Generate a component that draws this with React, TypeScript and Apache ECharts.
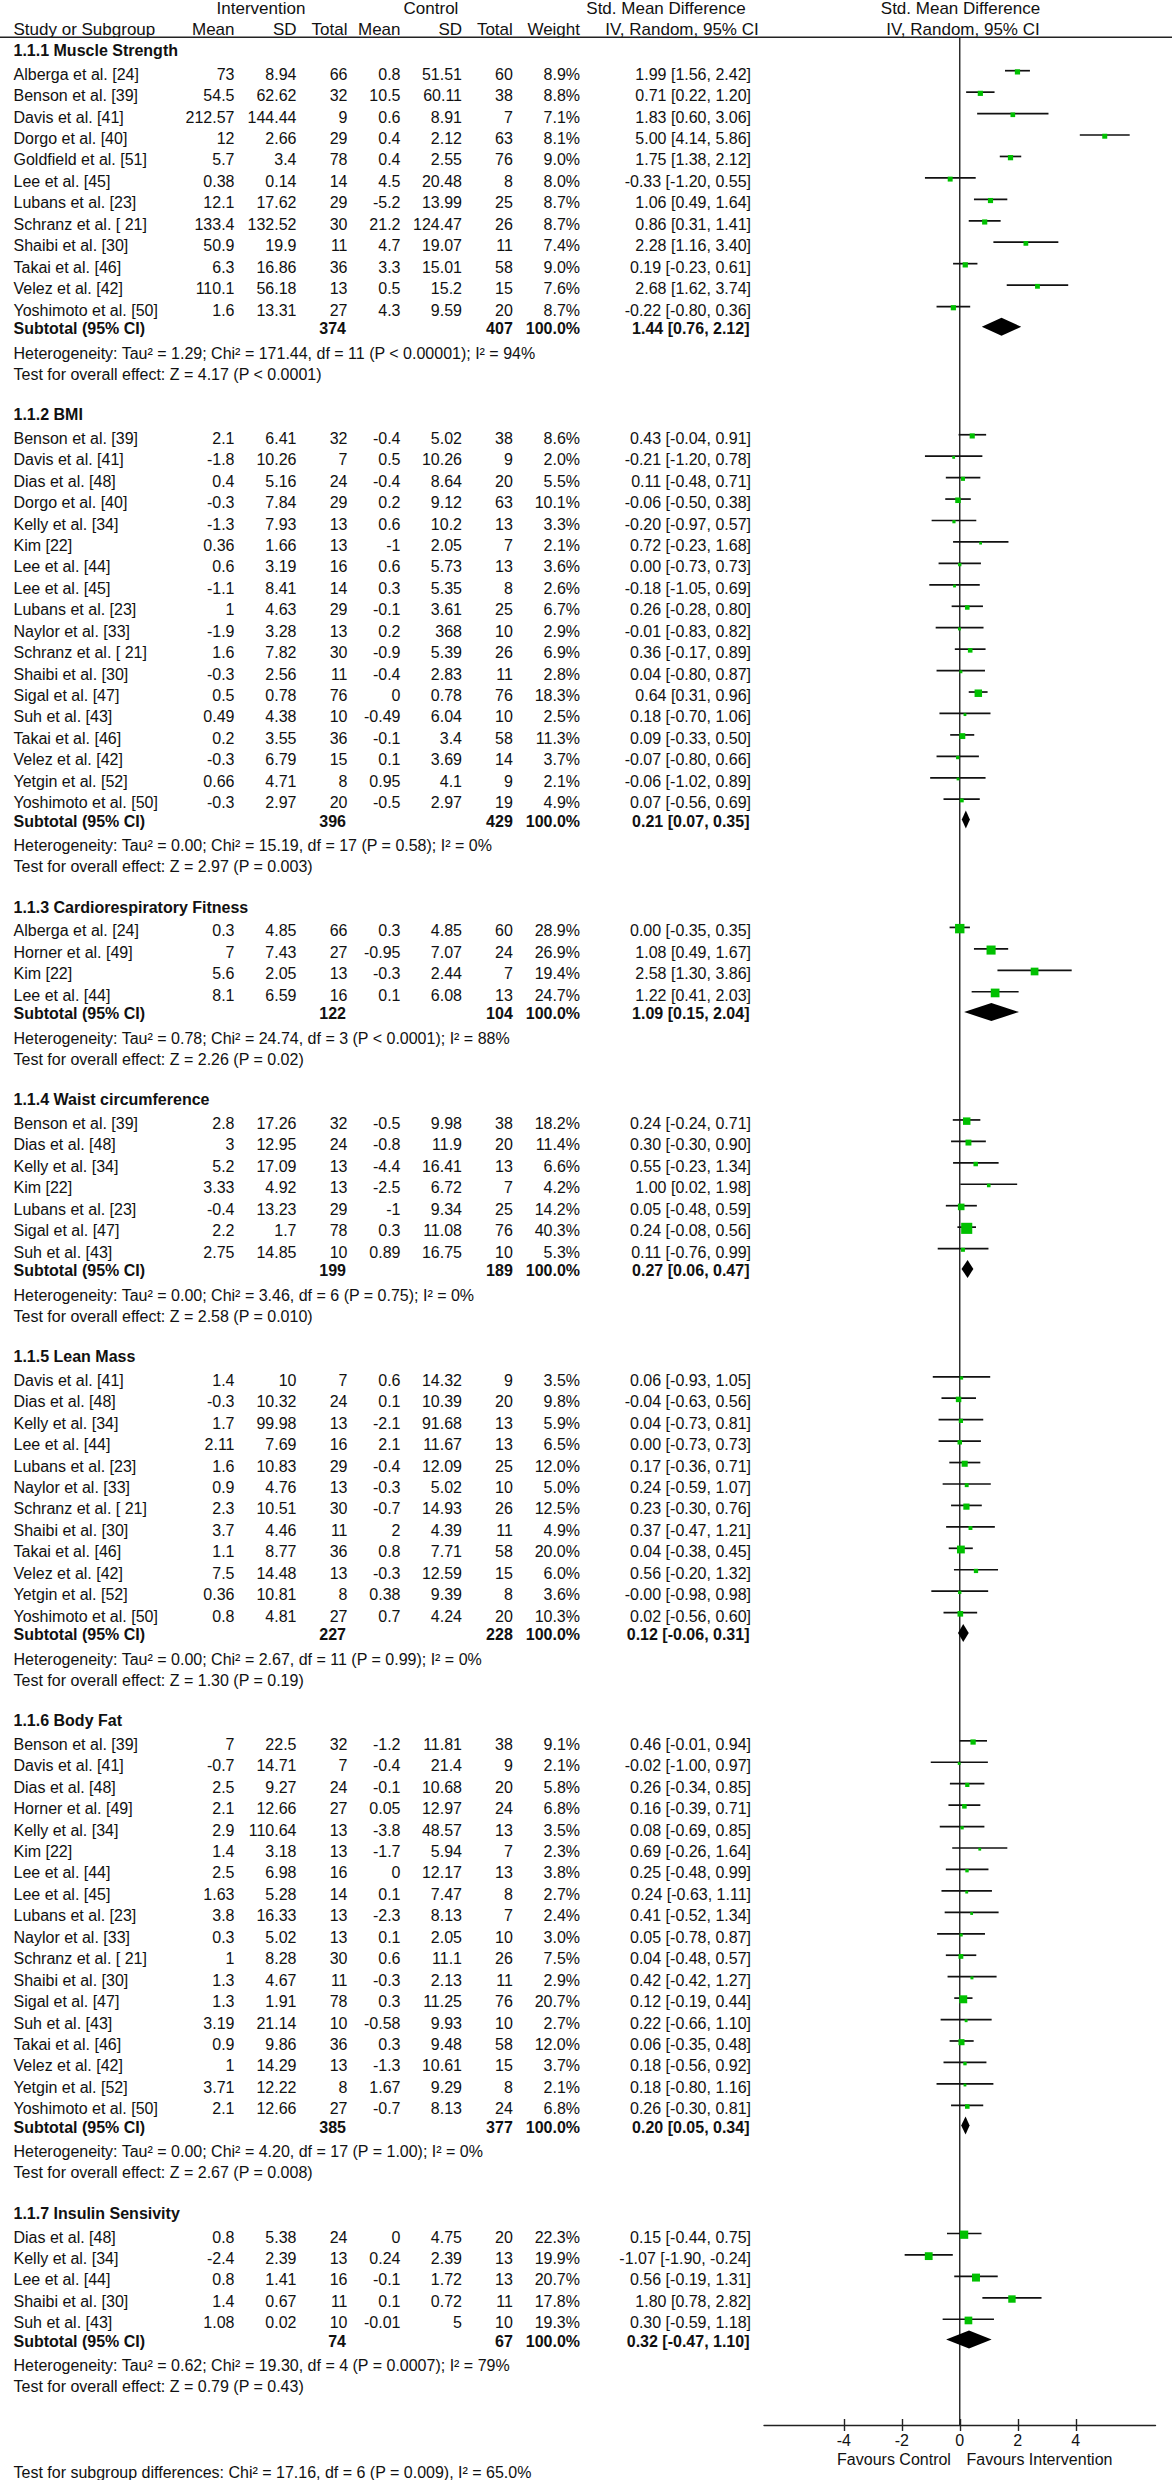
import React, { useEffect, useRef } from "react";
import * as echarts from "echarts";

const W = 1172;
const H = 2480;
const FONT = '"Liberation Sans", Arial, Helvetica, sans-serif';

// ---------- data ----------
const sectionTitles = [
  "1.1.1 Muscle Strength",
  "1.1.2 BMI",
  "1.1.3 Cardiorespiratory Fitness",
  "1.1.4 Waist circumference",
  "1.1.5 Lean Mass",
  "1.1.6 Body Fat",
  "1.1.7 Insulin Sensivity",
];

// Muscle Strength
const muscleNames = [
  "Alberga et al. [24]", "Benson et al. [39]", "Davis et al. [41]", "Dorgo et al. [40]",
  "Goldfield et al. [51]", "Lee et al. [45]", "Lubans et al. [23]", "Schranz et al. [ 21]",
  "Shaibi et al. [30]", "Takai et al. [46]", "Velez et al. [42]", "Yoshimoto et al. [50]",
];
const muscleStats = [
  [73, 8.94, 66, 0.8, 51.51, 60], [54.5, 62.62, 32, 10.5, 60.11, 38], [212.57, 144.44, 9, 0.6, 8.91, 7],
  [12, 2.66, 29, 0.4, 2.12, 63], [5.7, 3.4, 78, 0.4, 2.55, 76], [0.38, 0.14, 14, 4.5, 20.48, 8],
  [12.1, 17.62, 29, -5.2, 13.99, 25], [133.4, 132.52, 30, 21.2, 124.47, 26], [50.9, 19.9, 11, 4.7, 19.07, 11],
  [6.3, 16.86, 36, 3.3, 15.01, 58], [110.1, 56.18, 13, 0.5, 15.2, 15], [1.6, 13.31, 27, 4.3, 9.59, 20],
];
const muscleEffects = [
  [8.9, 1.99, 1.56, 2.42], [8.8, 0.71, 0.22, 1.2], [7.1, 1.83, 0.6, 3.06], [8.1, 5.0, 4.14, 5.86],
  [9.0, 1.75, 1.38, 2.12], [8.0, -0.33, -1.2, 0.55], [8.7, 1.06, 0.49, 1.64], [8.7, 0.86, 0.31, 1.41],
  [7.4, 2.28, 1.16, 3.4], [9.0, 0.19, -0.23, 0.61], [7.6, 2.68, 1.62, 3.74], [8.7, -0.22, -0.8, 0.36],
];
const muscleSubtotal = [374, 407, 1.44, 0.76, 2.12];
const muscleHet = "Heterogeneity: Tau² = 1.29; Chi² = 171.44, df = 11 (P < 0.00001); I² = 94%";
const muscleTest = "Test for overall effect: Z = 4.17 (P < 0.0001)";

// BMI
const bmiNames = [
  "Benson et al. [39]", "Davis et al. [41]", "Dias et al. [48]", "Dorgo et al. [40]", "Kelly et al. [34]",
  "Kim [22]", "Lee et al. [44]", "Lee et al. [45]", "Lubans et al. [23]", "Naylor et al. [33]",
  "Schranz et al. [ 21]", "Shaibi et al. [30]", "Sigal et al. [47]", "Suh et al. [43]", "Takai et al. [46]",
  "Velez et al. [42]", "Yetgin et al. [52]", "Yoshimoto et al. [50]",
];
const bmiStats = [
  [2.1, 6.41, 32, -0.4, 5.02, 38], [-1.8, 10.26, 7, 0.5, 10.26, 9], [0.4, 5.16, 24, -0.4, 8.64, 20],
  [-0.3, 7.84, 29, 0.2, 9.12, 63], [-1.3, 7.93, 13, 0.6, 10.2, 13], [0.36, 1.66, 13, -1, 2.05, 7],
  [0.6, 3.19, 16, 0.6, 5.73, 13], [-1.1, 8.41, 14, 0.3, 5.35, 8], [1, 4.63, 29, -0.1, 3.61, 25],
  [-1.9, 3.28, 13, 0.2, 368, 10], [1.6, 7.82, 30, -0.9, 5.39, 26], [-0.3, 2.56, 11, -0.4, 2.83, 11],
  [0.5, 0.78, 76, 0, 0.78, 76], [0.49, 4.38, 10, -0.49, 6.04, 10], [0.2, 3.55, 36, -0.1, 3.4, 58],
  [-0.3, 6.79, 15, 0.1, 3.69, 14], [0.66, 4.71, 8, 0.95, 4.1, 9], [-0.3, 2.97, 20, -0.5, 2.97, 19],
];
const bmiEffects = [
  [8.6, 0.43, -0.04, 0.91], [2.0, -0.21, -1.2, 0.78], [5.5, 0.11, -0.48, 0.71], [10.1, -0.06, -0.5, 0.38],
  [3.3, -0.2, -0.97, 0.57], [2.1, 0.72, -0.23, 1.68], [3.6, 0.0, -0.73, 0.73], [2.6, -0.18, -1.05, 0.69],
  [6.7, 0.26, -0.28, 0.8], [2.9, -0.01, -0.83, 0.82], [6.9, 0.36, -0.17, 0.89], [2.8, 0.04, -0.8, 0.87],
  [18.3, 0.64, 0.31, 0.96], [2.5, 0.18, -0.7, 1.06], [11.3, 0.09, -0.33, 0.5], [3.7, -0.07, -0.8, 0.66],
  [2.1, -0.06, -1.02, 0.89], [4.9, 0.07, -0.56, 0.69],
];
const bmiSubtotal = [396, 429, 0.21, 0.07, 0.35];
const bmiHet = "Heterogeneity: Tau² = 0.00; Chi² = 15.19, df = 17 (P = 0.58); I² = 0%";
const bmiTest = "Test for overall effect: Z = 2.97 (P = 0.003)";

// Cardiorespiratory Fitness
const cardioNames = ["Alberga et al. [24]", "Horner et al. [49]", "Kim [22]", "Lee et al. [44]"];
const cardioStats = [
  [0.3, 4.85, 66, 0.3, 4.85, 60], [7, 7.43, 27, -0.95, 7.07, 24],
  [5.6, 2.05, 13, -0.3, 2.44, 7], [8.1, 6.59, 16, 0.1, 6.08, 13],
];
const cardioEffects = [
  [28.9, 0.0, -0.35, 0.35], [26.9, 1.08, 0.49, 1.67], [19.4, 2.58, 1.3, 3.86], [24.7, 1.22, 0.41, 2.03],
];
const cardioSubtotal = [122, 104, 1.09, 0.15, 2.04];
const cardioHet = "Heterogeneity: Tau² = 0.78; Chi² = 24.74, df = 3 (P < 0.0001); I² = 88%";
const cardioTest = "Test for overall effect: Z = 2.26 (P = 0.02)";

// Waist circumference
const waistNames = [
  "Benson et al. [39]", "Dias et al. [48]", "Kelly et al. [34]", "Kim [22]",
  "Lubans et al. [23]", "Sigal et al. [47]", "Suh et al. [43]",
];
const waistStats = [
  [2.8, 17.26, 32, -0.5, 9.98, 38], [3, 12.95, 24, -0.8, 11.9, 20], [5.2, 17.09, 13, -4.4, 16.41, 13],
  [3.33, 4.92, 13, -2.5, 6.72, 7], [-0.4, 13.23, 29, -1, 9.34, 25], [2.2, 1.7, 78, 0.3, 11.08, 76],
  [2.75, 14.85, 10, 0.89, 16.75, 10],
];
const waistEffects = [
  [18.2, 0.24, -0.24, 0.71], [11.4, 0.3, -0.3, 0.9], [6.6, 0.55, -0.23, 1.34], [4.2, 1.0, 0.02, 1.98],
  [14.2, 0.05, -0.48, 0.59], [40.3, 0.24, -0.08, 0.56], [5.3, 0.11, -0.76, 0.99],
];
const waistSubtotal = [199, 189, 0.27, 0.06, 0.47];
const waistHet = "Heterogeneity: Tau² = 0.00; Chi² = 3.46, df = 6 (P = 0.75); I² = 0%";
const waistTest = "Test for overall effect: Z = 2.58 (P = 0.010)";

// Lean Mass
const leanNames = [
  "Davis et al. [41]", "Dias et al. [48]", "Kelly et al. [34]", "Lee et al. [44]", "Lubans et al. [23]",
  "Naylor et al. [33]", "Schranz et al. [ 21]", "Shaibi et al. [30]", "Takai et al. [46]",
  "Velez et al. [42]", "Yetgin et al. [52]", "Yoshimoto et al. [50]",
];
const leanStats = [
  [1.4, 10, 7, 0.6, 14.32, 9], [-0.3, 10.32, 24, 0.1, 10.39, 20], [1.7, 99.98, 13, -2.1, 91.68, 13],
  [2.11, 7.69, 16, 2.1, 11.67, 13], [1.6, 10.83, 29, -0.4, 12.09, 25], [0.9, 4.76, 13, -0.3, 5.02, 10],
  [2.3, 10.51, 30, -0.7, 14.93, 26], [3.7, 4.46, 11, 2, 4.39, 11], [1.1, 8.77, 36, 0.8, 7.71, 58],
  [7.5, 14.48, 13, -0.3, 12.59, 15], [0.36, 10.81, 8, 0.38, 9.39, 8], [0.8, 4.81, 27, 0.7, 4.24, 20],
];
const leanEffects = [
  [3.5, 0.06, -0.93, 1.05], [9.8, -0.04, -0.63, 0.56], [5.9, 0.04, -0.73, 0.81], [6.5, 0.0, -0.73, 0.73],
  [12.0, 0.17, -0.36, 0.71], [5.0, 0.24, -0.59, 1.07], [12.5, 0.23, -0.3, 0.76], [4.9, 0.37, -0.47, 1.21],
  [20.0, 0.04, -0.38, 0.45], [6.0, 0.56, -0.2, 1.32], [3.6, -0.001, -0.98, 0.98], [10.3, 0.02, -0.56, 0.6],
];
const leanSubtotal = [227, 228, 0.12, -0.06, 0.31];
const leanHet = "Heterogeneity: Tau² = 0.00; Chi² = 2.67, df = 11 (P = 0.99); I² = 0%";
const leanTest = "Test for overall effect: Z = 1.30 (P = 0.19)";

// Body Fat
const fatNames = [
  "Benson et al. [39]", "Davis et al. [41]", "Dias et al. [48]", "Horner et al. [49]", "Kelly et al. [34]",
  "Kim [22]", "Lee et al. [44]", "Lee et al. [45]", "Lubans et al. [23]", "Naylor et al. [33]",
  "Schranz et al. [ 21]", "Shaibi et al. [30]", "Sigal et al. [47]", "Suh et al. [43]", "Takai et al. [46]",
  "Velez et al. [42]", "Yetgin et al. [52]", "Yoshimoto et al. [50]",
];
const fatStats = [
  [7, 22.5, 32, -1.2, 11.81, 38], [-0.7, 14.71, 7, -0.4, 21.4, 9], [2.5, 9.27, 24, -0.1, 10.68, 20],
  [2.1, 12.66, 27, 0.05, 12.97, 24], [2.9, 110.64, 13, -3.8, 48.57, 13], [1.4, 3.18, 13, -1.7, 5.94, 7],
  [2.5, 6.98, 16, 0, 12.17, 13], [1.63, 5.28, 14, 0.1, 7.47, 8], [3.8, 16.33, 13, -2.3, 8.13, 7],
  [0.3, 5.02, 13, 0.1, 2.05, 10], [1, 8.28, 30, 0.6, 11.1, 26], [1.3, 4.67, 11, -0.3, 2.13, 11],
  [1.3, 1.91, 78, 0.3, 11.25, 76], [3.19, 21.14, 10, -0.58, 9.93, 10], [0.9, 9.86, 36, 0.3, 9.48, 58],
  [1, 14.29, 13, -1.3, 10.61, 15], [3.71, 12.22, 8, 1.67, 9.29, 8], [2.1, 12.66, 27, -0.7, 8.13, 24],
];
const fatEffects = [
  [9.1, 0.46, -0.01, 0.94], [2.1, -0.02, -1.0, 0.97], [5.8, 0.26, -0.34, 0.85], [6.8, 0.16, -0.39, 0.71],
  [3.5, 0.08, -0.69, 0.85], [2.3, 0.69, -0.26, 1.64], [3.8, 0.25, -0.48, 0.99], [2.7, 0.24, -0.63, 1.11],
  [2.4, 0.41, -0.52, 1.34], [3.0, 0.05, -0.78, 0.87], [7.5, 0.04, -0.48, 0.57], [2.9, 0.42, -0.42, 1.27],
  [20.7, 0.12, -0.19, 0.44], [2.7, 0.22, -0.66, 1.1], [12.0, 0.06, -0.35, 0.48], [3.7, 0.18, -0.56, 0.92],
  [2.1, 0.18, -0.8, 1.16], [6.8, 0.26, -0.3, 0.81],
];
const fatSubtotal = [385, 377, 0.2, 0.05, 0.34];
const fatHet = "Heterogeneity: Tau² = 0.00; Chi² = 4.20, df = 17 (P = 1.00); I² = 0%";
const fatTest = "Test for overall effect: Z = 2.67 (P = 0.008)";

// Insulin Sensivity
const insulinNames = ["Dias et al. [48]", "Kelly et al. [34]", "Lee et al. [44]", "Shaibi et al. [30]", "Suh et al. [43]"];
const insulinStats = [
  [0.8, 5.38, 24, 0, 4.75, 20], [-2.4, 2.39, 13, 0.24, 2.39, 13], [0.8, 1.41, 16, -0.1, 1.72, 13],
  [1.4, 0.67, 11, 0.1, 0.72, 11], [1.08, 0.02, 10, -0.01, 5, 10],
];
const insulinEffects = [
  [22.3, 0.15, -0.44, 0.75], [19.9, -1.07, -1.9, -0.24], [20.7, 0.56, -0.19, 1.31],
  [17.8, 1.8, 0.78, 2.82], [19.3, 0.3, -0.59, 1.18],
];
const insulinSubtotal = [74, 67, 0.32, -0.47, 1.1];
const insulinHet = "Heterogeneity: Tau² = 0.62; Chi² = 19.30, df = 4 (P = 0.0007); I² = 79%";
const insulinTest = "Test for overall effect: Z = 0.79 (P = 0.43)";

const subgroupTest = "Test for subgroup differences: Chi² = 17.16, df = 6 (P = 0.009), I² = 65.0%";
const tickValues = [-4, -2, 0, 2, 4];
const favoursLabels = ["Favours Control", "Favours Intervention"];

// ---------- layout ----------
const sections = [
  { names: muscleNames, stats: muscleStats, effects: muscleEffects, sub: muscleSubtotal, het: muscleHet, test: muscleTest },
  { names: bmiNames, stats: bmiStats, effects: bmiEffects, sub: bmiSubtotal, het: bmiHet, test: bmiTest },
  { names: cardioNames, stats: cardioStats, effects: cardioEffects, sub: cardioSubtotal, het: cardioHet, test: cardioTest },
  { names: waistNames, stats: waistStats, effects: waistEffects, sub: waistSubtotal, het: waistHet, test: waistTest },
  { names: leanNames, stats: leanStats, effects: leanEffects, sub: leanSubtotal, het: leanHet, test: leanTest },
  { names: fatNames, stats: fatStats, effects: fatEffects, sub: fatSubtotal, het: fatHet, test: fatTest },
  { names: insulinNames, stats: insulinStats, effects: insulinEffects, sub: insulinSubtotal, het: insulinHet, test: insulinTest },
];

const COL = { name: 13.5, iMean: 234.5, iSD: 296.5, iN: 347.5, cMean: 400.5, cSD: 462, cN: 512.8, w: 580, ci: 751 };
const RULE_Y = 37.3;
const AXIS_Y = 2425;
const STEP = 21.44;

type TextItem = { x: number; y: number; text: string; align: "left" | "right" | "center"; bold?: boolean; size?: number };

function ciText(smd: number, lo: number, hi: number) {
  return `${smd.toFixed(2)} [${lo.toFixed(2)}, ${hi.toFixed(2)}]`;
}

function buildLayout() {
  const texts: TextItem[] = [];
  const studies: number[][] = [];
  const diamonds: number[][] = [];

  // header
  texts.push({ x: 261, y: 8.5, text: "Intervention", align: "center", size: 17 });
  texts.push({ x: 431, y: 8.5, text: "Control", align: "center", size: 17 });
  texts.push({ x: 666, y: 8.5, text: "Std. Mean Difference", align: "center", size: 17 });
  texts.push({ x: 960.5, y: 8.5, text: "Std. Mean Difference", align: "center", size: 17 });
  texts.push({ x: COL.name, y: 29.5, text: "Study or Subgroup", align: "left", size: 17 });
  texts.push({ x: COL.iMean, y: 29.5, text: "Mean", align: "right", size: 17 });
  texts.push({ x: COL.iSD, y: 29.5, text: "SD", align: "right", size: 17 });
  texts.push({ x: COL.iN, y: 29.5, text: "Total", align: "right", size: 17 });
  texts.push({ x: COL.cMean, y: 29.5, text: "Mean", align: "right", size: 17 });
  texts.push({ x: COL.cSD, y: 29.5, text: "SD", align: "right", size: 17 });
  texts.push({ x: COL.cN, y: 29.5, text: "Total", align: "right", size: 17 });
  texts.push({ x: COL.w, y: 29.5, text: "Weight", align: "right", size: 17 });
  texts.push({ x: 682, y: 29.5, text: "IV, Random, 95% CI", align: "center", size: 17 });
  texts.push({ x: 963, y: 29.5, text: "IV, Random, 95% CI", align: "center", size: 17 });

  let y = 50.7;
  sections.forEach((s, si) => {
    texts.push({ x: COL.name, y, text: sectionTitles[si], align: "left", bold: true });
    y += 23.5;
    s.names.forEach((nm, i) => {
      const ry = y + i * STEP;
      const st = s.stats[i];
      const ef = s.effects[i];
      texts.push({ x: COL.name, y: ry, text: nm, align: "left" });
      texts.push({ x: COL.iMean, y: ry, text: String(st[0]), align: "right" });
      texts.push({ x: COL.iSD, y: ry, text: String(st[1]), align: "right" });
      texts.push({ x: COL.iN, y: ry, text: String(st[2]), align: "right" });
      texts.push({ x: COL.cMean, y: ry, text: String(st[3]), align: "right" });
      texts.push({ x: COL.cSD, y: ry, text: String(st[4]), align: "right" });
      texts.push({ x: COL.cN, y: ry, text: String(st[5]), align: "right" });
      texts.push({ x: COL.w, y: ry, text: ef[0].toFixed(1) + "%", align: "right" });
      texts.push({ x: COL.ci, y: ry, text: ciText(ef[1], ef[2], ef[3]), align: "right" });
      studies.push([ef[1], ef[2], ef[3], ry - 3.5, ef[0]]);
    });
    const last = y + (s.names.length - 1) * STEP;
    const sy = last + 18.3;
    texts.push({ x: COL.name, y: sy, text: "Subtotal (95% CI)", align: "left", bold: true });
    texts.push({ x: COL.iN - 1.5, y: sy, text: String(s.sub[0]), align: "right", bold: true });
    texts.push({ x: COL.cN, y: sy, text: String(s.sub[1]), align: "right", bold: true });
    texts.push({ x: COL.w, y: sy, text: "100.0%", align: "right", bold: true });
    texts.push({ x: COL.ci - 1.5, y: sy, text: ciText(s.sub[2], s.sub[3], s.sub[4]), align: "right", bold: true });
    diamonds.push([s.sub[2], s.sub[3], s.sub[4], sy - 1.5]);
    const hy = sy + 24.8;
    texts.push({ x: COL.name, y: hy, text: s.het, align: "left" });
    const ty = hy + 21;
    texts.push({ x: COL.name, y: ty, text: s.test, align: "left" });
    y = ty + 40.6;
  });

  texts.push({ x: 894, y: 2459, text: favoursLabels[0], align: "center" });
  texts.push({ x: 1039.5, y: 2459, text: favoursLabels[1], align: "center" });
  texts.push({ x: COL.name, y: 2472.7, text: subgroupTest, align: "left" });

  return { texts, studies, diamonds };
}

function buildOption() {
  const { texts, studies, diamonds } = buildLayout();
  return {
    animation: false,
    backgroundColor: "#ffffff",
    textStyle: { fontFamily: FONT },
    graphic: [
      {
        type: "line",
        shape: { x1: 0, y1: RULE_Y, x2: W, y2: RULE_Y },
        style: { stroke: "#222", lineWidth: 1.6 },
        z: 10,
      },
    ],
    grid: [
      { left: 764, right: 16.5, top: RULE_Y, bottom: H - AXIS_Y, containLabel: false },
      { left: 0, top: 0, width: W, height: H, containLabel: false },
    ],
    xAxis: [
      {
        gridIndex: 0,
        type: "value",
        min: -6.75,
        max: 6.75,
        position: "bottom",
        axisLine: { show: true, onZero: false, lineStyle: { color: "#222", width: 1.4 } },
        axisTick: { show: true, length: 6, inside: false, customValues: tickValues, lineStyle: { color: "#222", width: 1.4 } },
        axisLabel: {
          show: true,
          customValues: tickValues,
          fontSize: 16,
          color: "#111",
          fontFamily: FONT,
          margin: 7,
          formatter: (v: number) => String(v),
        },
        splitLine: { show: false },
      },
      {
        gridIndex: 0,
        type: "value",
        min: -6.75,
        max: 6.75,
        position: "bottom",
        axisLine: { show: false },
        axisTick: { show: true, length: 6, inside: true, customValues: tickValues, lineStyle: { color: "#222", width: 1.4 } },
        axisLabel: { show: false },
        splitLine: { show: false },
      },
      { gridIndex: 1, type: "value", min: 0, max: W, show: false },
    ],
    yAxis: [
      { gridIndex: 0, type: "value", min: RULE_Y, max: AXIS_Y, inverse: true, show: false },
      { gridIndex: 1, type: "value", min: 0, max: H, inverse: true, show: false },
    ],
    series: [
      {
        type: "line",
        xAxisIndex: 0,
        yAxisIndex: 0,
        data: [[0, RULE_Y], [0, AXIS_Y]],
        symbol: "none",
        lineStyle: { color: "#222", width: 1.4 },
        silent: true,
        z: 1,
      },
      {
        type: "custom",
        xAxisIndex: 0,
        yAxisIndex: 0,
        clip: false,
        z: 3,
        data: studies,
        encode: { x: [0, 1, 2], y: 3 },
        renderItem: (params: any, api: any) => {
          const smd = api.value(0);
          const lo = api.value(1);
          const hi = api.value(2);
          const yy = api.value(3);
          const w = api.value(4);
          const a = api.coord([lo, yy]);
          const b = api.coord([hi, yy]);
          const c = api.coord([smd, yy]);
          const s = Math.max(2.8, 1.75 * Math.sqrt(w));
          return {
            type: "group",
            children: [
              { type: "line", shape: { x1: a[0], y1: a[1], x2: b[0], y2: b[1] }, style: { stroke: "#111", lineWidth: 1.7 } },
              { type: "rect", shape: { x: c[0] - s / 2, y: c[1] + 1.2 - s / 2, width: s, height: s }, style: { fill: "#00C000" } },
            ],
          };
        },
      },
      {
        type: "custom",
        xAxisIndex: 0,
        yAxisIndex: 0,
        clip: false,
        z: 3,
        data: diamonds,
        encode: { x: [0, 1, 2], y: 3 },
        renderItem: (params: any, api: any) => {
          const smd = api.value(0);
          const lo = api.value(1);
          const hi = api.value(2);
          const yy = api.value(3);
          const l = api.coord([lo, yy]);
          const r = api.coord([hi, yy]);
          const c = api.coord([smd, yy]);
          const h = 9;
          return {
            type: "polygon",
            shape: { points: [[l[0], l[1]], [c[0], c[1] - h], [r[0], r[1]], [c[0], c[1] + h]] },
            style: { fill: "#000" },
          };
        },
      },
      {
        type: "custom",
        xAxisIndex: 2,
        yAxisIndex: 1,
        clip: false,
        z: 4,
        silent: true,
        data: texts.map((t) => [t.x, t.y]),
        renderItem: (params: any, api: any) => {
          const t = texts[params.dataIndex];
          const p = api.coord([t.x, t.y]);
          return {
            type: "text",
            x: p[0],
            y: p[1],
            style: {
              text: t.text,
              fill: "#111",
              fontFamily: FONT,
              fontSize: t.size || 16,
              fontWeight: t.bold ? "bold" : "normal",
              align: t.align,
              verticalAlign: "middle",
            },
          };
        },
      },
    ],
  };
}

export default function App() {
  const ref = useRef<HTMLDivElement>(null);
  useEffect(() => {
    document.body.style.margin = "0";
    const el = ref.current;
    if (!el) return;
    const chart = echarts.init(el, null, { renderer: "svg", width: W, height: H });
    chart.setOption(buildOption() as any);
    return () => {
      chart.dispose();
    };
  }, []);
  return <div ref={ref} style={{ width: W, height: H, background: "#fff" }} />;
}
